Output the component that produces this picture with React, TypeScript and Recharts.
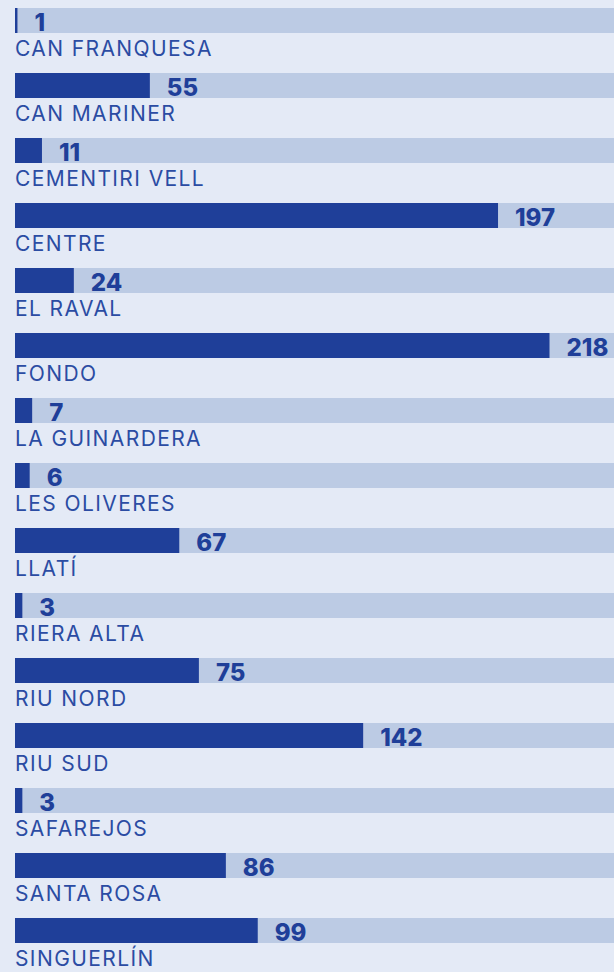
import React from 'react'
import { BarChart, Bar, XAxis, YAxis, LabelList } from 'recharts'

const barrios = [
  'CAN FRANQUESA',
  'CAN MARINER',
  'CEMENTIRI VELL',
  'CENTRE',
  'EL RAVAL',
  'FONDO',
  'LA GUINARDERA',
  'LES OLIVERES',
  'LLATÍ',
  'RIERA ALTA',
  'RIU NORD',
  'RIU SUD',
  'SAFAREJOS',
  'SANTA ROSA',
  'SINGUERLÍN',
]
const valores = [1, 55, 11, 197, 24, 218, 7, 6, 67, 3, 75, 142, 3, 86, 99]
const maxEje = 244.3

const data = barrios.map((name, i) => ({ name, value: valores[i] }))

const ValueLabel = (props: any) => {
  const { x, y, width, value } = props
  return (
    <text
      x={x + width + 17}
      y={y + 23}
      fill="#1f3f99"
      fontFamily="Inter, sans-serif"
      fontWeight={800}
      fontSize={24}
    >
      {value}
    </text>
  )
}

const NameLabel = (props: any) => {
  const { x, y, height, value } = props
  return (
    <text
      x={x}
      y={y + height + 23}
      fill="#2b4ca3"
      fontFamily="Inter, sans-serif"
      fontSize={21}
      letterSpacing={1.4}
    >
      {value}
    </text>
  )
}

const App = () => {
  return (
    <div style={{ position: 'absolute', top: -12, left: 0, background: '#e4eaf6' }}>
      <BarChart
        width={614}
        height={1000}
        data={data}
        layout="vertical"
        margin={{ top: 0, right: 0, left: 15, bottom: 25 }}
        style={{ background: '#e4eaf6' }}
      >
        <XAxis type="number" domain={[0, maxEje]} hide />
        <YAxis type="category" dataKey="name" hide />
        <Bar
          dataKey="value"
          fill="#1f3f99"
          barSize={25}
          background={{ fill: '#bccbe4' }}
          isAnimationActive={false}
        >
          <LabelList dataKey="value" content={<ValueLabel />} />
          <LabelList dataKey="name" content={<NameLabel />} />
        </Bar>
      </BarChart>
    </div>
  )
}

export default App
